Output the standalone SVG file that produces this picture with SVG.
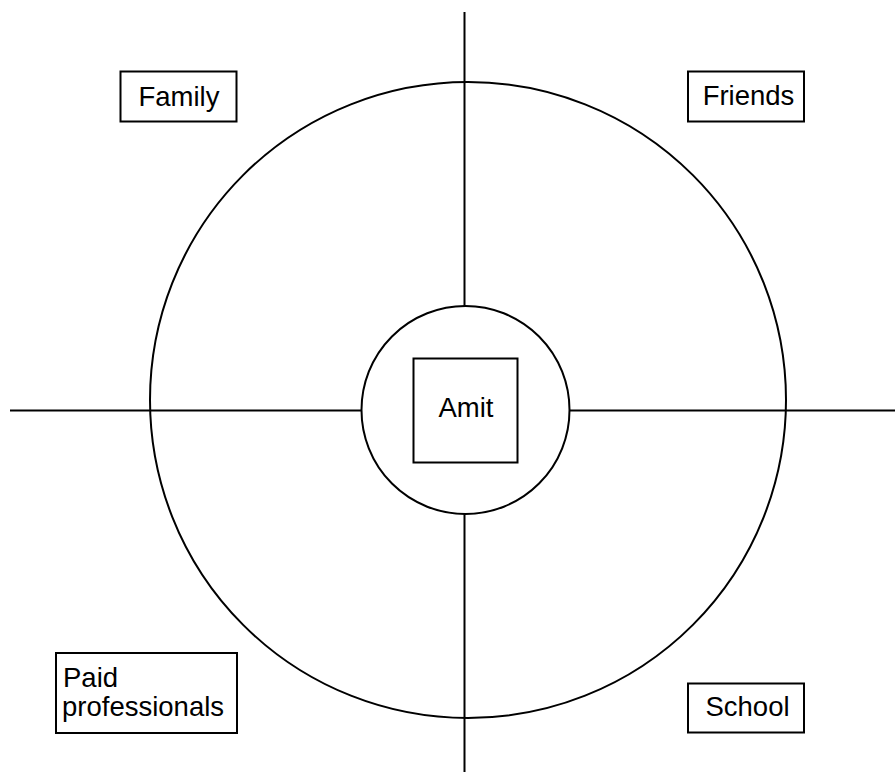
<svg xmlns="http://www.w3.org/2000/svg" width="895" height="772" viewBox="0 0 895 772">
<style>
.shape{fill:none;stroke:#000;stroke-width:2}
.box{fill:#fff;stroke:#000;stroke-width:2}
.line{stroke:#000;stroke-width:2;fill:none}
text{font-family:"Liberation Sans",Arial,sans-serif;font-size:27.5px;fill:#000}
.c{text-anchor:middle}
</style>
<rect width="895" height="772" fill="#fff"/>
<g id="outer-circle"><circle class="shape" cx="468" cy="400" r="318"/></g>
<g id="connectors">
<line class="line" x1="464.5" y1="12" x2="464.5" y2="306"/>
<line class="line" x1="464.5" y1="514" x2="464.5" y2="772"/>
<line class="line" x1="10" y1="410.5" x2="362" y2="410.5"/>
<line class="line" x1="569" y1="410.5" x2="895" y2="410.5"/>
</g>
<g id="inner-circle"><circle class="shape" cx="465.5" cy="410" r="104"/></g>
<g id="amit"><rect class="box" x="413.5" y="358.5" width="104" height="104"/><text class="c" x="466" y="417">Amit</text></g>
<g id="family"><rect class="box" x="120.5" y="71.5" width="116" height="50"/><text class="c" x="179" y="105.5">Family</text></g>
<g id="friends"><rect class="box" x="688" y="71.5" width="116" height="50"/><text class="c" x="748.5" y="104.5">Friends</text></g>
<g id="paid"><rect class="box" x="56" y="653" width="181" height="80"/><text x="63" y="686.5">Paid</text><text x="62" y="716">professionals</text></g>
<g id="school"><rect class="box" x="688" y="683.5" width="116" height="49"/><text class="c" x="747.5" y="716">School</text></g>
</svg>
